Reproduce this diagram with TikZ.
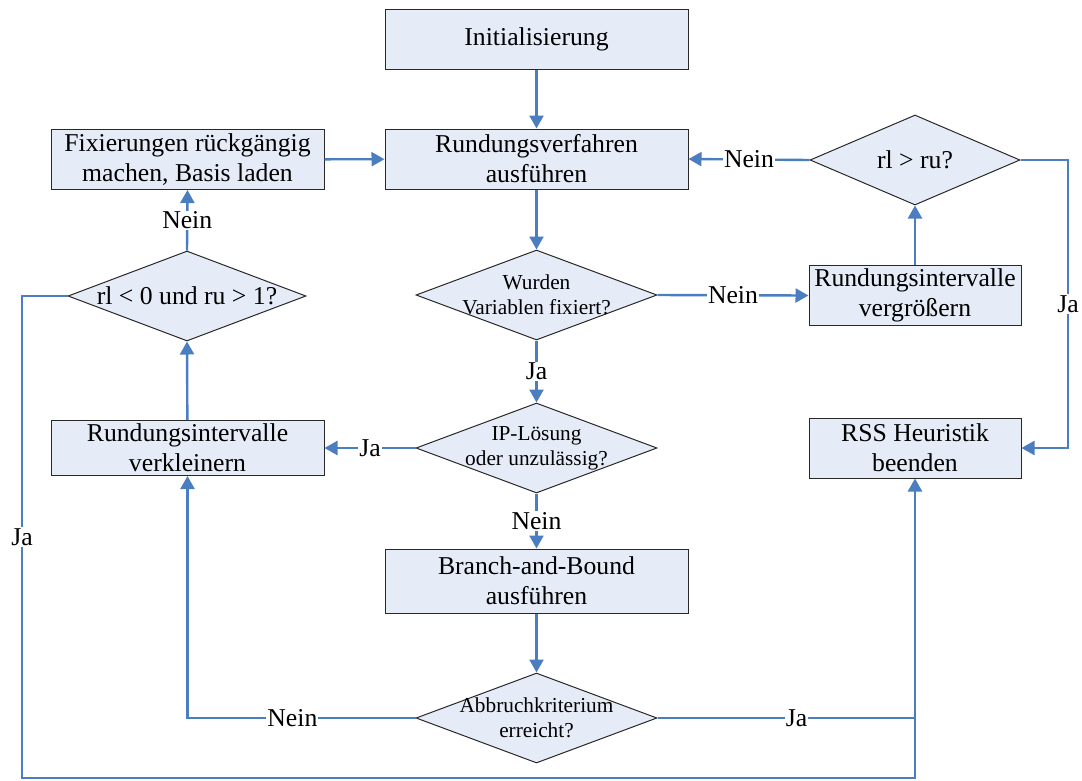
\documentclass[tikz,border=0pt]{standalone}
\usepackage{fontspec}
\setmainfont{Liberation Serif}
\usetikzlibrary{arrows.meta,shapes.geometric}
\definecolor{flowblue}{RGB}{74,126,193}
\definecolor{boxfill}{RGB}{230,236,247}
\definecolor{boxline}{RGB}{40,40,40}
\tikzset{
  big/.style={font=\fontsize{25.7}{30}\selectfont},
  small/.style={font=\fontsize{21.3}{25}\selectfont},
  procbox/.style={draw=boxline, line width=1pt, fill=boxfill, rectangle, inner sep=0pt, align=center, big},
  decision/.style={draw=boxline, line width=1pt, fill=boxfill, diamond, inner sep=0pt},
  flow/.style={draw=flowblue, line width=2.4pt, -{Triangle[width=14pt,length=13pt]}},
  plainflow/.style={draw=flowblue, line width=2.4pt},
  lbl/.style={fill=white, inner sep=1pt, big, text=black},
}
\begin{document}
\begin{tikzpicture}[x=1pt,y=-1pt]
\useasboundingbox (0,0) rectangle (1082,780);

% process boxes
\node[procbox, minimum width=303pt, minimum height=60pt] (init) at (536.5,39) {Initialisierung};
\node[procbox, minimum width=303pt, minimum height=60pt] (rund) at (536.5,159) {Rundungsverfahren\\ausführen};
\node[procbox, minimum width=273pt, minimum height=60pt] (fix) at (187.5,159.5) {Fixierungen rückgängig\\machen, Basis laden};
\node[procbox, minimum width=212pt, minimum height=60pt] (groe) at (915,295.5) {Rundungsintervalle\\vergrößern};
\node[procbox, minimum width=273pt, minimum height=55pt] (klein) at (187.5,448) {Rundungsintervalle\\verkleinern};
\node[procbox, minimum width=212pt, minimum height=60pt] (rss) at (915,448) {RSS Heuristik\\beenden};
\node[procbox, minimum width=303pt, minimum height=64pt] (bnb) at (536.5,581) {Branch-and-Bound\\ausführen};

% decision diamonds
\node[decision, minimum width=210pt, minimum height=90pt] (rlru) at (915,160) {};
\node[big] at (rlru.center) {rl > ru?};
\node[decision, minimum width=238pt, minimum height=90pt] (rlnull) at (187,296) {};
\node[big] at (rlnull.center) {rl < 0 und ru > 1?};
\node[decision, minimum width=241pt, minimum height=90pt] (wurden) at (536.5,295) {};
\node[small, align=center] at (wurden.center) {Wurden\\Variablen fixiert?};
\node[decision, minimum width=241pt, minimum height=90pt] (ip) at (536.5,448) {};
\node[small, align=center] at (ip.center) {IP-Lösung\\oder unzulässig?};
\node[decision, minimum width=241pt, minimum height=90pt] (abb) at (536.5,718) {};
\node[small, align=center] at (abb.center) {Abbruchkriterium\\erreicht?};

% routing points
\coordinate (rtop) at (1068,160);
\coordinate (rbot) at (1068,448);
\coordinate (ltop) at (22,296);
\coordinate (lbot) at (22,778);
\coordinate (bbot) at (915,778);
\coordinate (bjoin) at (915,718);

% connectors
\draw[flow] (init) -- (rund);
\draw[flow] (rund) -- (wurden.north);
\draw[flow] (wurden.east) -- node[lbl]{Nein} (groe.west);
\draw[flow] (groe) -- (rlru.south);
\draw[flow] (rlru.west) -- node[lbl]{Nein} (rund.east);
\draw[flow] (rlru.east) -- (rtop) -- node[lbl]{Ja} (rbot) -- (rss.east);
\draw[flow] (wurden.south) -- node[lbl]{Ja} (ip.north);
\draw[flow] (ip.west) -- node[lbl]{Ja} (klein.east);
\draw[flow] (ip.south) -- node[lbl]{Nein} (bnb.north);
\draw[flow] (bnb) -- (abb.north);
\draw[flow] (abb.west) -| node[lbl, pos=0.27]{Nein} (klein.south);
\draw[flow] (abb.east) -| node[lbl, pos=0.27]{Ja} (rss.south);
\draw[flow] (klein) -- (rlnull.south);
\draw[flow] (rlnull.north) -- node[lbl]{Nein} (fix.south);
\draw[flow] (fix) -- (rund);
\draw[plainflow] (rlnull.west) -- (ltop) -- node[lbl]{Ja} (lbot) -- (bbot) -- (bjoin);
\end{tikzpicture}
\end{document}
